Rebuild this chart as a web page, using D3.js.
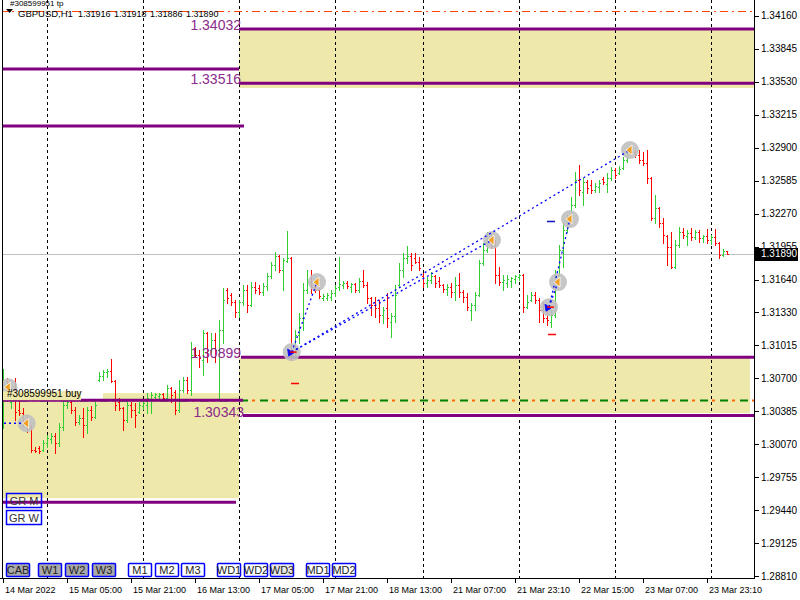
<!DOCTYPE html>
<html><head><meta charset="utf-8">
<script src="https://cdn.jsdelivr.net/npm/d3@7"></script>
<style>
html,body{margin:0;padding:0;background:#fff;}
svg{display:block;font-family:"Liberation Sans",Arial,sans-serif;}
</style></head><body>
<svg id="chart" width="800" height="600"></svg>
<script>
// ---------- DATA ----------
const symbolTitle = "GBPUSD,H1";
const headerPrices = ["1.31916","1.31918","1.31886","1.31890"];
const orderTitle = "#308599951 tp";
const orderLabel = "#308599951 buy";
// trading sessions: day, first hour, last hour (H1 bars)
const sessions = [["14 Mar",13,23],["15 Mar",0,23],["16 Mar",0,23],["17 Mar",0,23],["18 Mar",0,21],["21 Mar",0,23],["22 Mar",0,23],["23 Mar",0,23],["24 Mar",0,4]];

const openP = [1.30299,1.30633,1.30471,1.30538,1.30395,1.30366,1.30261,1.30223,1.30013,1.30032,1.30013,1.30079,1.30118,1.30147,1.30079,1.30232,1.30442,1.30471,1.30395,1.30280,1.30319,1.30251,1.30395,1.30328,1.30681,1.30720,1.30758,1.30767,1.30671,1.30471,1.30414,1.30299,1.30442,1.30395,1.30376,1.30433,1.30442,1.30490,1.30519,1.30529,1.30548,1.30510,1.30605,1.30567,1.30395,1.30586,1.30681,1.30586,1.30968,1.30920,1.30872,1.31130,1.30968,1.31063,1.30968,1.31159,1.31541,1.31493,1.31426,1.31331,1.31426,1.31541,1.31397,1.31569,1.31560,1.31522,1.31579,1.31675,1.31779,1.31866,1.31732,1.31817,1.31846,1.30949,1.31111,1.31274,1.31541,1.31617,1.31569,1.31541,1.31464,1.31464,1.31474,1.31512,1.31569,1.31588,1.31607,1.31569,1.31598,1.31541,1.31627,1.31588,1.31464,1.31397,1.31369,1.31302,1.31369,1.31235,1.31293,1.31588,1.31732,1.31846,1.31866,1.31846,1.31808,1.31675,1.31607,1.31636,1.31675,1.31627,1.31588,1.31550,1.31569,1.31522,1.31588,1.31522,1.31474,1.31350,1.31397,1.31493,1.31798,1.31923,1.32018,1.31961,1.31684,1.31617,1.31607,1.31627,1.31646,1.31665,1.31684,1.31378,1.31445,1.31493,1.31445,1.31350,1.31274,1.31235,1.31302,1.31684,1.31923,1.32114,1.32209,1.32352,1.32591,1.32477,1.32572,1.32543,1.32496,1.32524,1.32601,1.32553,1.32610,1.32687,1.32658,1.32706,1.32782,1.32878,1.32859,1.32830,1.32782,1.32753,1.32610,1.32228,1.32324,1.32180,1.32057,1.31952,1.31760,1.31971,1.32095,1.32057,1.32085,1.32047,1.32095,1.32038,1.32057,1.32018,1.32047,1.31989,1.31875,1.31916];
const highP = [1.30787,1.30701,1.30567,1.30701,1.30510,1.30414,1.30347,1.30251,1.30041,1.30051,1.30108,1.30156,1.30175,1.30175,1.30270,1.30471,1.30490,1.30490,1.30423,1.30347,1.30414,1.30423,1.30433,1.30490,1.30758,1.30777,1.30787,1.30882,1.30681,1.30510,1.30423,1.30471,1.30471,1.30461,1.30471,1.30471,1.30557,1.30567,1.30557,1.30557,1.30557,1.30633,1.30614,1.30586,1.30681,1.30710,1.30710,1.31044,1.30997,1.30968,1.31159,1.31140,1.31130,1.31130,1.31254,1.31560,1.31560,1.31512,1.31445,1.31445,1.31588,1.31588,1.31617,1.31617,1.31588,1.31607,1.31703,1.31808,1.31904,1.31875,1.31846,1.32104,1.31856,1.31159,1.31321,1.31607,1.31732,1.31732,1.31636,1.31569,1.31503,1.31512,1.31541,1.31588,1.31856,1.31627,1.31627,1.31607,1.31607,1.31656,1.31732,1.31617,1.31474,1.31474,1.31445,1.31378,1.31512,1.31321,1.31588,1.31798,1.31894,1.31961,1.31894,1.31894,1.31856,1.31703,1.31665,1.31713,1.31684,1.31665,1.31598,1.31598,1.31607,1.31665,1.31703,1.31541,1.31512,1.31416,1.31522,1.31827,1.31989,1.32095,1.32076,1.32018,1.31760,1.31684,1.31684,1.31665,1.31684,1.31694,1.31694,1.31493,1.31522,1.31522,1.31464,1.31426,1.31388,1.31350,1.31732,1.31971,1.32180,1.32257,1.32429,1.32668,1.32735,1.32610,1.32591,1.32591,1.32562,1.32591,1.32620,1.32658,1.32716,1.32706,1.32725,1.32811,1.32906,1.32925,1.32878,1.32878,1.32859,1.32878,1.32620,1.32448,1.32333,1.32228,1.32066,1.32095,1.32018,1.32142,1.32133,1.32114,1.32133,1.32114,1.32114,1.32066,1.32123,1.32066,1.32123,1.31999,1.31932,1.31918];
const lowP = [1.30223,1.30490,1.30414,1.30299,1.30347,1.30242,1.30185,1.29994,1.29994,1.29984,1.30003,1.30041,1.30079,1.29984,1.30051,1.30204,1.30414,1.30366,1.30251,1.30261,1.30137,1.30175,1.30299,1.30319,1.30671,1.30681,1.30710,1.30662,1.30395,1.30395,1.30204,1.30280,1.30328,1.30232,1.30366,1.30404,1.30366,1.30366,1.30500,1.30500,1.30490,1.30490,1.30471,1.30357,1.30376,1.30567,1.30557,1.30538,1.30901,1.30806,1.30729,1.30853,1.30939,1.30853,1.30490,1.31034,1.31416,1.31397,1.31283,1.31283,1.31397,1.31331,1.31388,1.31512,1.31503,1.31493,1.31541,1.31656,1.31732,1.31713,1.31541,1.31808,1.30872,1.30911,1.31034,1.31159,1.31512,1.31512,1.31522,1.31464,1.31445,1.31445,1.31445,1.31484,1.31541,1.31560,1.31560,1.31522,1.31522,1.31522,1.31569,1.31416,1.31302,1.31283,1.31235,1.31225,1.31187,1.31092,1.31235,1.31569,1.31665,1.31798,1.31732,1.31798,1.31732,1.31569,1.31569,1.31607,1.31569,1.31569,1.31522,1.31493,1.31474,1.31445,1.31474,1.31426,1.31350,1.31254,1.31350,1.31484,1.31779,1.31904,1.31942,1.31607,1.31588,1.31541,1.31569,1.31569,1.31607,1.31636,1.31331,1.31369,1.31435,1.31416,1.31235,1.31235,1.31206,1.31187,1.31283,1.31665,1.31760,1.32095,1.32190,1.32333,1.32448,1.32352,1.32467,1.32467,1.32477,1.32477,1.32553,1.32477,1.32591,1.32610,1.32649,1.32697,1.32763,1.32830,1.32811,1.32753,1.32735,1.32562,1.32209,1.32180,1.32142,1.31989,1.31779,1.31751,1.31751,1.31952,1.32038,1.31971,1.32018,1.32028,1.31999,1.31999,1.31989,1.31980,1.31971,1.31846,1.31866,1.31886];
const closeP = [1.30633,1.30529,1.30538,1.30376,1.30366,1.30261,1.30223,1.30013,1.30003,1.30003,1.30079,1.30128,1.30147,1.30079,1.30232,1.30442,1.30471,1.30395,1.30280,1.30319,1.30251,1.30395,1.30328,1.30442,1.30720,1.30758,1.30767,1.30671,1.30442,1.30414,1.30299,1.30442,1.30395,1.30347,1.30442,1.30461,1.30510,1.30538,1.30548,1.30548,1.30510,1.30605,1.30538,1.30395,1.30586,1.30681,1.30586,1.30920,1.30920,1.30892,1.31130,1.30968,1.31063,1.30968,1.31159,1.31445,1.31464,1.31426,1.31331,1.31426,1.31541,1.31397,1.31569,1.31541,1.31522,1.31579,1.31675,1.31779,1.31866,1.31732,1.31827,1.31846,1.30920,1.31111,1.31274,1.31541,1.31617,1.31569,1.31541,1.31484,1.31484,1.31493,1.31512,1.31560,1.31598,1.31607,1.31579,1.31598,1.31541,1.31627,1.31588,1.31464,1.31397,1.31369,1.31302,1.31350,1.31274,1.31293,1.31493,1.31732,1.31846,1.31866,1.31779,1.31808,1.31751,1.31607,1.31636,1.31675,1.31607,1.31588,1.31550,1.31569,1.31522,1.31588,1.31522,1.31474,1.31378,1.31397,1.31493,1.31798,1.31923,1.32018,1.31961,1.31684,1.31617,1.31636,1.31646,1.31656,1.31675,1.31684,1.31378,1.31426,1.31493,1.31445,1.31350,1.31274,1.31254,1.31302,1.31684,1.31923,1.32114,1.32209,1.32352,1.32591,1.32496,1.32572,1.32515,1.32496,1.32534,1.32562,1.32572,1.32610,1.32687,1.32639,1.32697,1.32782,1.32878,1.32859,1.32830,1.32782,1.32753,1.32610,1.32228,1.32324,1.32180,1.32066,1.31952,1.31760,1.31971,1.32095,1.32066,1.32085,1.32047,1.32095,1.32038,1.32057,1.32018,1.32047,1.31989,1.31875,1.31913,1.31890];

const currentPrice = 1.31890;
const priceTicks = [1.34160,1.33845,1.33530,1.33215,1.32900,1.32585,1.32270,1.31955,1.31640,1.31330,1.31015,1.30700,1.30385,1.30070,1.29755,1.29440,1.29125,1.28810];
const timeTickBars = ["14 Mar 13:00","15 Mar 05:00","15 Mar 21:00","16 Mar 13:00","17 Mar 05:00","17 Mar 21:00","18 Mar 13:00","21 Mar 07:00","21 Mar 23:00","22 Mar 15:00","23 Mar 07:00","23 Mar 23:00"];
const timeTickLabels = ["14 Mar 2022","15 Mar 05:00","15 Mar 21:00","16 Mar 13:00","17 Mar 05:00","17 Mar 21:00","18 Mar 13:00","21 Mar 07:00","21 Mar 23:10","22 Mar 15:00","23 Mar 07:00","23 Mar 23:10"];
const daySeparators = ["15 Mar 00:00","16 Mar 00:00","17 Mar 00:00","18 Mar 00:00","21 Mar 00:00","22 Mar 00:00","23 Mar 00:00","24 Mar 00:00"];

// supply / demand zones
const zoneTop    = [1.34032,1.30899,1.30490,1.30557];
const zoneBottom = [1.33470,1.30366,1.29554,1.30490];
const zoneStart  = ["17 Mar 00:00","17 Mar 00:00","14 Mar 00:00","15 Mar 14:00"];
const zoneEnd    = ["24 Mar 12:00","24 Mar 09:45","17 Mar 00:00","17 Mar 00:00"];
// purple levels
const levelPrice = [1.34032,1.33516,1.33651,1.33107,1.30899,1.30343,1.30490,1.29516];
const levelStart = ["17 Mar 00:00","17 Mar 00:00","14 Mar 00:00","14 Mar 00:00","17 Mar 00:30","17 Mar 01:00","14 Mar 00:00","14 Mar 00:00"];
const levelEnd   = ["24 Mar 12:00","24 Mar 12:00","17 Mar 00:00","17 Mar 01:15","24 Mar 12:00","24 Mar 12:00","17 Mar 01:00","16 Mar 23:15"];
const levelLabels = ["1.34032","1.33516","1.30899","1.30343"];
const levelLabelPrice = [1.34032,1.33516,1.30899,1.30343];
const levelLabelAt = ["17 Mar 00:30","17 Mar 00:30","17 Mar 00:30","17 Mar 01:15"];
// order lines
const orderPrice = 1.30490;
const targetPrice = 1.34205;

// trade marks
const tradeTime  = ["14 Mar 14:20","14 Mar 18:55","17 Mar 13:10","17 Mar 19:30","21 Mar 17:15","22 Mar 07:30","22 Mar 09:45","22 Mar 12:45","23 Mar 03:45"];
const tradePrice = [1.30614,1.30270,1.30949,1.31617,1.32018,1.31378,1.31617,1.32219,1.32878];
const tradeKind  = ["close","close","open","close","close","open","close","close","close"];
const linkFromTime  = ["14 Mar 12:00","17 Mar 13:10","17 Mar 13:10","17 Mar 13:10","22 Mar 07:30","22 Mar 07:30"];
const linkFromPrice = [1.30270,1.30949,1.30949,1.30949,1.31378,1.31378];
const linkToTime    = ["14 Mar 18:55","17 Mar 19:30","21 Mar 17:15","23 Mar 03:45","22 Mar 09:45","22 Mar 12:45"];
const linkToPrice   = [1.30270,1.31617,1.32018,1.32878,1.31617,1.32219];
const stopTime  = ["17 Mar 14:00","22 Mar 08:15"];
const stopPrice = [1.30652,1.31121];
const takeTime  = ["22 Mar 08:00"];
const takePrice = [1.32199];

const buttons = ["CAB","W1","W2","W3","M1","M2","M3","WD1","WD2","WD3","MD1","MD2"];
const buttonState = ["on","on","on","on","off","off","off","off","off","half","off","off"];
const sideButtons = ["GR M","GR W"];

// ---------- BUILD ----------
const barKeys = [];
const sessionStartIdx = {};
sessions.forEach(([d,h0,h1])=>{
  sessionStartIdx[d] = {start: barKeys.length, h0};
  for(let h=h0;h<=h1;h++) barKeys.push(d+" "+String(h).padStart(2,"0")+":00");
});
function tIndex(t){
  const p = t.split(" ");
  const day = p[0]+" "+p[1];
  const [hh,mm] = p[2].split(":").map(Number);
  const s = sessionStartIdx[day];
  return s.start + (hh - s.h0) + mm/60;
}

const svg = d3.select("#chart");
const plotR = 754, plotB = 578;
const x = d3.scaleLinear().domain([0, barKeys.length-1]).range([3, 727]);
const y = d3.scaleLinear().domain([1.28810, 1.34160]).range([576.2, 15.7]);
const X = t => x(tIndex(t));

svg.append("defs").append("clipPath").attr("id","plot")
  .append("rect").attr("x",3).attr("y",0).attr("width",plotR-3).attr("height",plotB);
const g = svg.append("g").attr("clip-path","url(#plot)");

const khaki = "#EEE8AA", purple = "#800080";

// zones
g.append("g").selectAll("rect").data(zoneTop).join("rect")
  .attr("x",(d,i)=>X(zoneStart[i])).attr("y",d=>y(d))
  .attr("width",(d,i)=>X(zoneEnd[i])-X(zoneStart[i]))
  .attr("height",(d,i)=>y(zoneBottom[i])-y(d))
  .attr("fill",khaki);

// day separators
g.append("g").selectAll("line").data(daySeparators).join("line")
  .attr("x1",d=>Math.round(X(d))+0.5).attr("x2",d=>Math.round(X(d))+0.5)
  .attr("y1",0).attr("y2",plotB)
  .attr("stroke","#000").attr("stroke-dasharray","3,3").attr("stroke-width",1);

// current price line
g.append("line").attr("x1",0).attr("x2",plotR).attr("y1",Math.round(y(currentPrice))+0.5).attr("y2",Math.round(y(currentPrice))+0.5)
  .attr("stroke","#C0C0C0").attr("stroke-width",1);

// target dashed line at top
g.append("line").attr("x1",0).attr("x2",plotR).attr("y1",Math.round(y(targetPrice))+0.5).attr("y2",Math.round(y(targetPrice))+0.5)
  .attr("stroke","#FF4500").attr("stroke-width",1).attr("stroke-dasharray","8,4,2,4");

// bars
const up = "#32CD32", dn = "#FF0000";
const bars = g.append("g").attr("shape-rendering","crispEdges");
const idx = d3.range(barKeys.length);
const col = i => closeP[i] >= openP[i] ? up : dn;
bars.selectAll("rect.v").data(idx).join("rect").attr("class","v")
  .attr("x",i=>Math.round(x(i))).attr("y",i=>Math.round(y(highP[i])))
  .attr("width",1).attr("height",i=>Math.max(1,Math.round(y(lowP[i]))-Math.round(y(highP[i]))+1))
  .attr("fill",col);
bars.selectAll("rect.o").data(idx).join("rect").attr("class","o")
  .attr("x",i=>Math.round(x(i))-1).attr("y",i=>Math.round(y(openP[i])))
  .attr("width",1).attr("height",1).attr("fill",col);
bars.selectAll("rect.c").data(idx).join("rect").attr("class","c")
  .attr("x",i=>Math.round(x(i))+1).attr("y",i=>Math.round(y(closeP[i])))
  .attr("width",1).attr("height",1).attr("fill",col);

// order line (green dash-dot with orange)
const oy = Math.round(y(orderPrice))+0.5;
g.append("line").attr("x1",0).attr("x2",plotR).attr("y1",oy).attr("y2",oy)
  .attr("stroke","#008000").attr("stroke-width",2).attr("stroke-dasharray","8,12");
g.append("line").attr("x1",0).attr("x2",plotR).attr("y1",oy).attr("y2",oy)
  .attr("stroke","#FF6600").attr("stroke-width",2).attr("stroke-dasharray","3,17").attr("stroke-dashoffset",-12);

// side buttons (under levels)
const sb = svg.append("g");
sideButtons.forEach((b,i)=>{
  const by = 493 + i*17;
  sb.append("rect").attr("x",6.5).attr("y",by+0.5).attr("width",35).attr("height",14)
    .attr("fill", i===0 ? "none" : "#fff").attr("stroke","#0000FF").attr("stroke-width",1.5);
  sb.append("text").attr("x",24).attr("y",by+11.5).attr("text-anchor","middle")
    .attr("font-size",11).attr("fill","#333").text(b);
});

// purple levels
g.append("g").selectAll("line").data(levelPrice).join("line")
  .attr("x1",(d,i)=>X(levelStart[i])).attr("x2",(d,i)=>X(levelEnd[i]))
  .attr("y1",d=>y(d)).attr("y2",d=>y(d))
  .attr("stroke",purple).attr("stroke-width",3);

// level labels
svg.append("g").selectAll("text").data(levelLabels).join("text")
  .attr("x",(d,i)=>X(levelLabelAt[i])).attr("y",(d,i)=>y(levelLabelPrice[i])+1)
  .attr("text-anchor","end").attr("font-size",14).attr("fill","#8B2C8B").text(d=>d);

// trade markers
const tm = g.append("g");
tm.selectAll("circle").data(tradeTime).join("circle")
  .attr("cx",d=>X(d)).attr("cy",(d,i)=>y(tradePrice[i])).attr("r",9)
  .attr("fill","#C0C0C0").attr("fill-opacity",0.9);
tm.selectAll("line.link").data(linkFromTime).join("line").attr("class","link")
  .attr("x1",d=>X(d)).attr("y1",(d,i)=>y(linkFromPrice[i]))
  .attr("x2",(d,i)=>X(linkToTime[i])).attr("y2",(d,i)=>y(linkToPrice[i]))
  .attr("stroke","#0000FF").attr("stroke-width",1.3).attr("stroke-dasharray","2,3");
tm.selectAll("path.mk").data(tradeTime).join("path").attr("class","mk")
  .attr("d",(d,i)=>{
    const cx=X(d), cy=y(tradePrice[i]);
    if(tradeKind[i]==="close") return `M${cx-4},${cy} L${cx+2},${cy-5} L${cx+2},${cy+5} Z`;
    return `M${cx-4},${cy-3} L${cx+2},${cy+1} L${cx-3},${cy+4} Z`;
  })
  .attr("fill",(d,i)=>tradeKind[i]==="close" ? "#F0A020" : "#0000FF")
  .attr("stroke",(d,i)=>tradeKind[i]==="close" ? "#fff" : "#0000FF").attr("stroke-width",0.8);
tm.selectAll("line.ent").data(tradeTime.filter((d,i)=>tradeKind[i]==="open")).join("line").attr("class","ent")
  .attr("x1",d=>X(d)-2).attr("x2",d=>X(d)+5)
  .attr("y1",d=>y(tradePrice[tradeTime.indexOf(d)])).attr("y2",d=>y(tradePrice[tradeTime.indexOf(d)]))
  .attr("stroke","#FF0000").attr("stroke-width",1.5);
tm.selectAll("line.sl").data(stopTime).join("line").attr("class","sl")
  .attr("x1",d=>X(d)-4).attr("x2",d=>X(d)+4)
  .attr("y1",(d,i)=>Math.round(y(stopPrice[i]))+0.5).attr("y2",(d,i)=>Math.round(y(stopPrice[i]))+0.5)
  .attr("stroke","#FF0000").attr("stroke-width",1.5);
tm.selectAll("line.tp").data(takeTime).join("line").attr("class","tp")
  .attr("x1",d=>X(d)-4).attr("x2",d=>X(d)+4)
  .attr("y1",(d,i)=>Math.round(y(takePrice[i]))+0.5).attr("y2",(d,i)=>Math.round(y(takePrice[i]))+0.5)
  .attr("stroke","#1010C0").attr("stroke-width",1.5);

// order label
const ol = svg.append("g");
ol.append("rect").attr("x",3).attr("y",y(orderPrice)-9).attr("width",78).attr("height",9).attr("fill",khaki);
ol.append("text").attr("x",7).attr("y",y(orderPrice)-3).attr("font-size",10).attr("fill","#000").text(orderLabel);

// header
const hd = svg.append("g").attr("fill","#000");
hd.append("text").attr("x",10).attr("y",6).attr("font-size",8).text(orderTitle);
hd.append("path").attr("d","M6,9 L13,9 L9.5,13 Z").attr("fill","#000");
hd.append("text").attr("x",18).attr("y",16.5).attr("font-size",9.5).text(symbolTitle);
hd.selectAll("text.hp").data(headerPrices).join("text").attr("class","hp")
  .attr("x",(d,i)=>78+i*36).attr("y",16.5).attr("font-size",9).text(d=>d);

// frame & axes
svg.append("line").attr("x1",2.5).attr("x2",2.5).attr("y1",0).attr("y2",plotB).attr("stroke","#000");
svg.append("line").attr("x1",plotR+0.5).attr("x2",plotR+0.5).attr("y1",0).attr("y2",plotB+1).attr("stroke","#000");
svg.append("line").attr("x1",0).attr("x2",plotR+1).attr("y1",plotB+0.5).attr("y2",plotB+0.5).attr("stroke","#000");

const ya = svg.append("g").attr("font-size",10).attr("fill","#000");
ya.selectAll("line").data(priceTicks).join("line")
  .attr("x1",plotR+1).attr("x2",plotR+5).attr("y1",d=>Math.round(y(d))+0.5).attr("y2",d=>Math.round(y(d))+0.5).attr("stroke","#000");
ya.selectAll("text").data(priceTicks).join("text")
  .attr("x",761).attr("y",d=>y(d)+3.5).text(d=>d.toFixed(5));

// current price box
svg.append("rect").attr("x",755).attr("y",Math.round(y(currentPrice))-6).attr("width",43).attr("height",13).attr("fill","#000");
svg.append("text").attr("x",761).attr("y",y(currentPrice)+3.5).attr("font-size",10).attr("fill","#fff").text(currentPrice.toFixed(5));

// time axis
const xa = svg.append("g").attr("font-size",9).attr("fill","#000");
xa.selectAll("line").data(timeTickBars).join("line")
  .attr("x1",d=>Math.round(X(d))+0.5).attr("x2",d=>Math.round(X(d))+0.5).attr("y1",plotB+1).attr("y2",plotB+5).attr("stroke","#000");
xa.selectAll("text").data(timeTickBars).join("text")
  .attr("x",d=>X(d)+2).attr("y",593).text((d,i)=>timeTickLabels[i]);

// bottom buttons
const bx = [6,38,65,92,128,155,181,217,244,270,306,332];
const bb = svg.append("g");
buttons.forEach((b,i)=>{
  const st = buttonState[i];
  bb.append("rect").attr("x",bx[i]+0.5).attr("y",563.5).attr("width",23).attr("height",13).attr("rx",1)
    .attr("fill", st==="on" ? "#A9A9A9" : st==="half" ? "#E6E6E6" : "#fff")
    .attr("stroke","#0000FF").attr("stroke-width",1.5);
  bb.append("text").attr("x",bx[i]+12).attr("y",574).attr("text-anchor","middle")
    .attr("font-size",11).attr("fill","#222").text(b);
});
</script>
</body></html>
